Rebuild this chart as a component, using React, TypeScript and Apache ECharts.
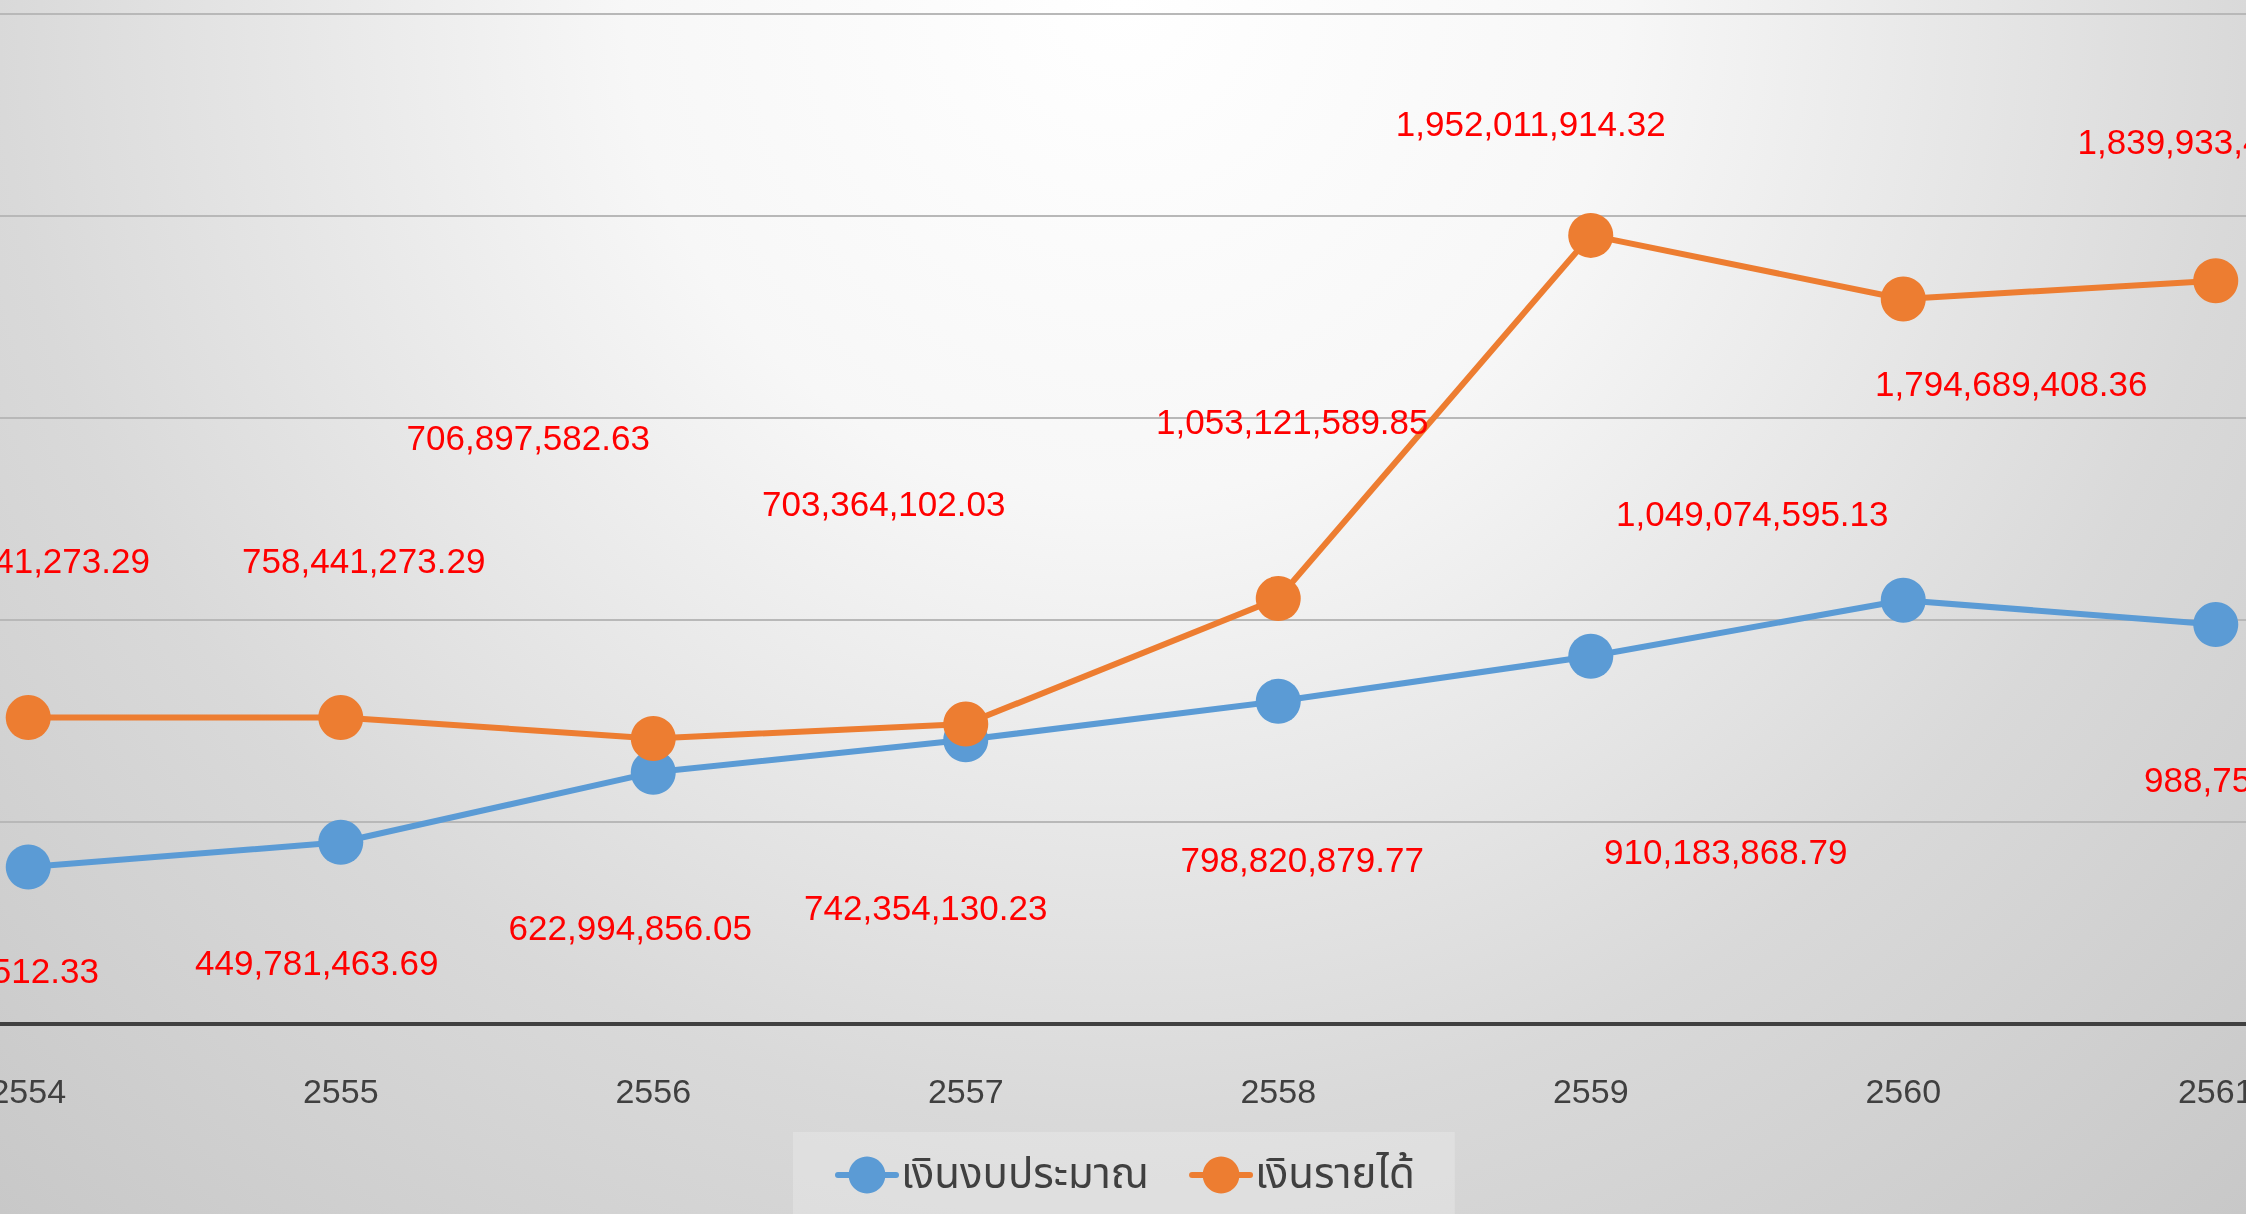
import React, { useEffect, useRef } from "react";
import * as echarts from "echarts";

const years = ["2554", "2555", "2556", "2557", "2558", "2559", "2560", "2561"];
const budget = [
  388604512.33, 449781463.69, 622994856.05, 703364102.03, 798820879.77,
  910183868.79, 1049074595.13, 988752310.4,
];
const income = [
  758441273.29, 758441273.29, 706897582.63, 742354130.23, 1053121589.85,
  1952011914.32, 1794689408.36, 1839933465.21,
];
const seriesNames = ["เงินงบประมาณ", "เงินรายได้"];

// label placement (style only): offsets from each point, in px
const budgetLabelOffsets = [
  [-51, 103], [-24, 120], [-23, 155], [-82, -236],
  [24, 158], [135, 195], [-151, -87], [50, 155],
];
const incomeLabelOffsets = [
  [0, -157], [23, -157], [-125, -301], [-40, 183],
  [14, -177], [-60, -112], [108, 85], [-2, -139],
];

const fmt = (v: number) =>
  v.toLocaleString("en-US", { minimumFractionDigits: 2, maximumFractionDigits: 2 });

const labelFont = "'Liberation Sans', Arial, sans-serif";

function buildData(values: number[], offsets: number[][]) {
  return values.map((v, i) => ({
    value: v,
    label: { offset: offsets[i] },
  }));
}

export default function App() {
  const ref = useRef<HTMLDivElement>(null);
  useEffect(() => {
    if (!ref.current) return;
    const chart = echarts.init(ref.current, undefined, { renderer: "svg" });
    const commonLabel = {
      show: true,
      position: "inside",
      align: "center",
      verticalAlign: "middle",
      color: "#FF0000",
      fontSize: 35,
      fontFamily: labelFont,
      formatter: (p: any) => fmt(p.value),
    };
    chart.setOption({
      animation: false,
      backgroundColor: "transparent",
      grid: {
        left: -128,
        width: 2500,
        top: 14,
        bottom: 190,
        containLabel: false,
        outerBoundsMode: "none",
      },
      legend: {
        data: seriesNames,
        left: 793,
        top: 1132,
        padding: [22, 40, 40, 42],
        backgroundColor: "rgba(255,255,255,0.22)",
        itemWidth: 58,
        itemHeight: 46,
        itemGap: 40,
        lineStyle: { width: 6, cap: "round" },
        textStyle: {
          fontSize: 42,
          color: "#404040",
          fontFamily: "'Noto Sans Thai', Loma, Garuda, 'Tlwg Typo', 'Noto Sans', sans-serif",
        },
      },
      xAxis: {
        type: "category",
        data: years,
        boundaryGap: true,
        axisLine: { show: true, lineStyle: { color: "#404040", width: 4 } },
        axisTick: { show: false },
        axisLabel: {
          fontSize: 34,
          color: "#404040",
          fontFamily: labelFont,
          margin: 50,
        },
      },
      yAxis: {
        type: "value",
        min: 0,
        max: 2500000000,
        interval: 500000000,
        axisLabel: { show: false },
        axisLine: { show: false },
        axisTick: { show: false },
        splitLine: { show: true, lineStyle: { color: "#b8b8b8", width: 2 } },
      },
      series: [
        {
          name: seriesNames[0],
          type: "line",
          data: buildData(budget, budgetLabelOffsets),
          symbol: "circle",
          symbolSize: 45,
          color: "#5B9BD5",
          lineStyle: { color: "#5B9BD5", width: 6 },
          itemStyle: { color: "#5B9BD5" },
          label: commonLabel,
          clip: false,
          z: 2,
        },
        {
          name: seriesNames[1],
          type: "line",
          data: buildData(income, incomeLabelOffsets),
          symbol: "circle",
          symbolSize: 45,
          color: "#ED7D31",
          lineStyle: { color: "#ED7D31", width: 6 },
          itemStyle: { color: "#ED7D31" },
          label: commonLabel,
          clip: false,
          z: 3,
        },
      ],
    });
    return () => chart.dispose();
  }, []);
  return (
    <div
      ref={ref}
      style={{
        position: "fixed",
        left: 0,
        top: 0,
        width: 2246,
        height: 1214,
        background:
          "radial-gradient(circle farthest-corner at 50% 0%, #ffffff 0%, #f7f7f7 30%, #d9d9d9 68%, #c8c8c8 100%)",
      }}
    />
  );
}
